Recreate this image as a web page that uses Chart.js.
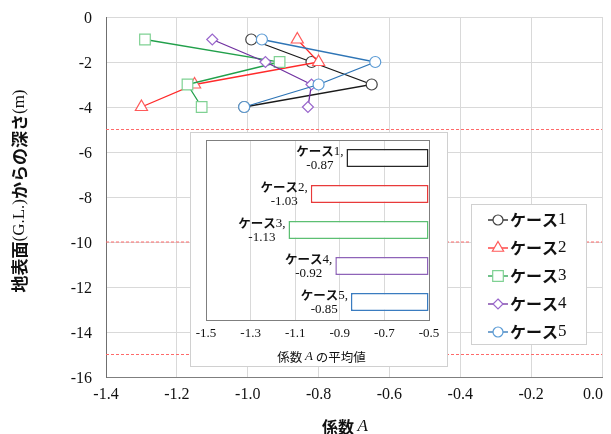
<!DOCTYPE html>
<html><head><meta charset="utf-8">
<script src="https://cdn.jsdelivr.net/npm/chart.js@4.4.0/dist/chart.umd.min.js"></script>
<style>
html,body{margin:0;padding:0;background:#fff;}
#wrap{position:relative;width:611px;height:434px;overflow:hidden;}
#main{position:absolute;left:0;top:0;}
#inset{position:absolute;left:190px;top:132px;}
</style></head><body>
<div id="wrap"><canvas id="main" width="611" height="434"></canvas><canvas id="inset" width="258" height="235"></canvas></div>
<script>
// ---- data ----
const depths = [-1, -2, -3, -4];
const seriesNames = ['ケース1', 'ケース2', 'ケース3', 'ケース4', 'ケース5'];
const case1 = [-0.99, -0.82, -0.65, -1.01];
const case2 = [-0.86, -0.80, -1.15, -1.30];
const case3 = [-1.29, -0.91, -1.17, -1.13];
const case4 = [-1.10, -0.95, -0.82, -0.83];
const case5 = [-0.96, -0.64, -0.80, -1.01];
const meanValues = [-0.87, -1.03, -1.13, -0.92, -0.85];
const boundaryDepths = [-5, -10, -15];

const seriesValues = [case1, case2, case3, case4, case5];
const styles = [
  {line:'#1a1a1a', mark:'#404040', ps:'circle',   r:5.5, bar:'#262626'},
  {line:'#ff2a2a', mark:'#ff5a5a', ps:'triangle', r:7,   bar:'#e83a3a'},
  {line:'#22a04b', mark:'#7fd193', ps:'rect',     r:7.5, bar:'#5cbf72'},
  {line:'#7030a0', mark:'#9966cc', ps:'rectRot',  r:5.5, bar:'#8e63b8'},
  {line:'#2e75b6', mark:'#5b9bd5', ps:'circle',   r:5.5, bar:'#3a7cc0'}
];

const SERIF = '"Liberation Serif", "Times New Roman", serif';
const GOTH = '"Noto Sans CJK JP", sans-serif';

function runsOf(text, cjkFont, latFont) {
  const runs = []; const re = /[\u3000-\u30ff\u3400-\u9fff\uff00-\uffef]/;
  for (const ch of text) {
    const f = re.test(ch) ? cjkFont : latFont;
    if (runs.length && runs[runs.length-1].f === f) runs[runs.length-1].t += ch;
    else runs.push({t: ch, f});
  }
  return runs;
}
function runsWidth(ctx, runs) { let w = 0; for (const r of runs) { ctx.font = r.f; w += ctx.measureText(r.t).width; } return w; }
function drawRuns(ctx, runs, x, y, align, color) {
  const w = runsWidth(ctx, runs);
  let cx = align === 'center' ? x - w/2 : align === 'right' ? x - w : x;
  ctx.textAlign = 'left'; ctx.textBaseline = 'middle'; ctx.fillStyle = color || '#111';
  for (const r of runs) { ctx.font = r.f; ctx.fillText(r.t, cx, y); cx += ctx.measureText(r.t).width; }
  return w;
}
function drawMarker(ctx, style, r, x, y, stroke) {
  ctx.save();
  ctx.beginPath();
  if (style === 'circle') ctx.arc(x, y, r, 0, Math.PI*2);
  else if (style === 'triangle') {
    for (let k = 0; k < 3; k++) { const a = k * 2*Math.PI/3; const px = x + Math.sin(a)*r, py = y - Math.cos(a)*r; k ? ctx.lineTo(px, py) : ctx.moveTo(px, py); }
    ctx.closePath();
  } else if (style === 'rect') { const s = r*Math.SQRT1_2; ctx.rect(x-s, y-s, 2*s, 2*s); }
  else if (style === 'rectRot') { ctx.moveTo(x, y-r); ctx.lineTo(x+r, y); ctx.lineTo(x, y+r); ctx.lineTo(x-r, y); ctx.closePath(); }
  ctx.fillStyle = '#fff'; ctx.fill();
  ctx.strokeStyle = stroke; ctx.lineWidth = 1.2; ctx.stroke();
  ctx.restore();
}

// ---- main chart ----
const datasets = seriesValues.map((vals, i) => ({
  label: seriesNames[i],
  data: depths.map((d, k) => ({x: vals[k], y: d})),
  showLine: true,
  borderColor: styles[i].line,
  borderWidth: 1.3,
  pointStyle: styles[i].ps,
  pointRadius: styles[i].r,
  pointBorderColor: styles[i].mark,
  pointBackgroundColor: '#fff',
  pointBorderWidth: 1.2,
  tension: 0,
  order: 4 - i
}));
boundaryDepths.forEach(d => datasets.push({
  label: '',
  data: [{x: -1.4, y: d}, {x: 0, y: d}],
  showLine: true, borderColor: '#ff6a6a', borderWidth: 1.2, borderDash: [3, 2],
  pointRadius: 0, order: 10
}));

const mainPlugin = {
  id: 'mainDecor',
  afterDraw(chart) {
    const ctx = chart.ctx, a = chart.chartArea, xs = chart.scales.x;
    ctx.save();
    // last x tick label (kept inside the canvas)
    ctx.font = '16px ' + SERIF; ctx.fillStyle = '#111'; ctx.textAlign = 'right'; ctx.textBaseline = 'middle';
    ctx.fillText(xs.max.toFixed(1), a.right + 1, a.bottom + 18);
    // x title
    drawRuns(ctx, [{t:'係数 ', f:'bold 16px ' + GOTH}, {t:'A', f:'italic 17px ' + SERIF}], (a.left + a.right)/2 - 9, 427, 'center', '#111');
    // y title
    ctx.save();
    ctx.translate(20, (a.top + a.bottom)/2 - 6);
    ctx.rotate(-Math.PI/2);
    drawRuns(ctx, runsOf('地表面(G.L.)からの深さ(m)', 'bold 17px ' + GOTH, '17px ' + SERIF), 0, 0, 'center', '#111');
    ctx.restore();
    // legend
    ctx.fillStyle = '#fff'; ctx.fillRect(471, 204, 116, 141);
    ctx.strokeStyle = '#d0d0d0'; ctx.lineWidth = 1; ctx.strokeRect(471.5, 204.5, 115, 140);
    seriesNames.forEach((name, i) => {
      const y = 220 + 28*i;
      ctx.strokeStyle = styles[i].line; ctx.lineWidth = 1.3;
      ctx.beginPath(); ctx.moveTo(488, y); ctx.lineTo(508, y); ctx.stroke();
      drawMarker(ctx, styles[i].ps, styles[i].ps === 'rect' ? 7.5 : (styles[i].ps === 'triangle' ? 6.5 : 5), 498, y, styles[i].mark);
      drawRuns(ctx, runsOf(name, 'bold 16px ' + GOTH, '17px ' + SERIF), 510, y, 'left', '#111');
    });
    ctx.restore();
  }
};

new Chart(document.getElementById('main'), {
  type: 'scatter',
  data: {datasets},
  options: {
    responsive: false, animation: false, devicePixelRatio: 1,
    layout: {padding: {top: 17, right: 9, left: 0, bottom: 0}},
    plugins: {legend: {display: false}, tooltip: {enabled: false}},
    scales: {
      x: {
        type: 'linear', min: -1.4, max: 0,
        ticks: {stepSize: 0.2, padding: 8, color: '#111', font: {family: SERIF, size: 16},
          callback: (v) => Math.abs(v) < 1e-9 ? '' : v.toFixed(1)},
        grid: {color: '#d9d9d9', drawTicks: false},
        border: {color: '#7f7f7f', width: 1},
        afterFit: s => { s.height = 57; s.paddingLeft = 0; s.paddingRight = 0; }
      },
      y: {
        type: 'linear', min: -16, max: 0,
        ticks: {stepSize: 2, padding: 14, labelOffset: 2, color: '#111', font: {family: SERIF, size: 16},
          callback: (v) => String(Math.round(v))},
        grid: {color: '#d9d9d9', drawTicks: false},
        border: {color: '#6f6f6f', width: 1},
        afterFit: s => { s.width = 106; s.paddingTop = 0; s.paddingBottom = 0; }
      }
    }
  },
  plugins: [mainPlugin]
});

// ---- inset chart ----
const insetPlugin = {
  id: 'insetDecor',
  beforeDraw(chart) {
    const ctx = chart.ctx;
    ctx.save();
    ctx.fillStyle = '#fff'; ctx.fillRect(0, 0, chart.width, chart.height);
    ctx.strokeStyle = '#d0d0d0'; ctx.lineWidth = 1; ctx.strokeRect(0.5, 0.5, chart.width - 1, chart.height - 1);
    ctx.restore();
  },
  afterDraw(chart) {
    const ctx = chart.ctx, a = chart.chartArea;
    ctx.save();
    ctx.strokeStyle = '#7f7f7f'; ctx.lineWidth = 1;
    ctx.strokeRect(Math.round(a.left) + 0.5, Math.round(a.top) + 0.5, Math.round(a.right - a.left), Math.round(a.bottom - a.top));
    const meta = chart.getDatasetMeta(0);
    meta.data.forEach((el, i) => {
      const left = Math.min(el.x, el.base);
      const l1 = runsOf(seriesNames[i] + ',', 'bold 12.5px ' + GOTH, '13px ' + SERIF);
      const l2 = runsOf(meanValues[i].toFixed(2), 'bold 12.5px ' + GOTH, '13px ' + SERIF);
      const w = runsWidth(ctx, l1);
      const cx = left - 3 - w/2;
      drawRuns(ctx, l1, cx, el.y - 6.5, 'center', '#111');
      drawRuns(ctx, l2, cx, el.y + 8, 'center', '#111');
    });
    drawRuns(ctx, [{t:'係数 ', f:'12.5px ' + GOTH}, {t:'A', f:'italic 13px ' + SERIF}, {t:' の平均値', f:'12.5px ' + GOTH}],
      (a.left + a.right)/2 + 4, 225, 'center', '#111');
    ctx.restore();
  }
};

new Chart(document.getElementById('inset'), {
  type: 'bar',
  data: {
    labels: seriesNames,
    datasets: [{
      data: meanValues,
      base: -0.5,
      backgroundColor: '#fff',
      borderColor: styles.map(s => s.bar),
      borderWidth: 1.5,
      borderSkipped: false,
      barPercentage: 0.5,
      categoryPercentage: 1.0
    }]
  },
  options: {
    indexAxis: 'y',
    responsive: false, animation: false, devicePixelRatio: 1,
    layout: {padding: {top: 8, left: 16, right: 19, bottom: 0}},
    plugins: {legend: {display: false}, tooltip: {enabled: false}},
    scales: {
      x: {
        type: 'linear', min: -1.5, max: -0.5,
        ticks: {stepSize: 0.2, padding: 6, color: '#111', font: {family: SERIF, size: 13},
          callback: (v) => v.toFixed(1)},
        grid: {color: '#d9d9d9', drawTicks: false},
        border: {display: false},
        afterFit: s => { s.height = 47; s.paddingLeft = 0; s.paddingRight = 0; }
      },
      y: {display: false}
    }
  },
  plugins: [insetPlugin]
});
</script>
</body></html>
